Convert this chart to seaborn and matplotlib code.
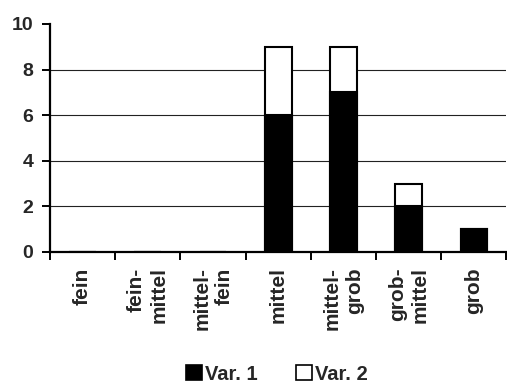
import matplotlib
matplotlib.use("Agg")
import matplotlib.pyplot as plt
from matplotlib.patches import Patch
import seaborn as sns
import pandas as pd

# Grain-size classes and counts per variant
categories = ["fein", "fein-\nmittel", "mittel-\nfein", "mittel", "mittel-\ngrob", "grob-\nmittel", "grob"]
var1 = [0, 0, 0, 6, 7, 2, 1]
var2 = [0, 0, 0, 3, 2, 1, 0]
yticks = [0, 2, 4, 6, 8, 10]

df = pd.DataFrame({"klasse": categories, "Var. 1": var1, "Var. 2": var2})
df["gesamt"] = df["Var. 1"] + df["Var. 2"]

sns.set_theme(style="white")
plt.rcParams["font.family"] = ["Liberation Sans", "DejaVu Sans"]
plt.rcParams["font.weight"] = "bold"

fig = plt.figure(figsize=(5.07, 3.83), dpi=100)
ax = fig.add_axes([50 / 507, 1 - 252 / 383, 1 - 50 / 507 - 0.001, (252 - 24) / 383])

# stacked bars: total in white, Var. 1 drawn over it in black
sns.barplot(data=df, x="klasse", y="gesamt", color="white", edgecolor="black",
            linewidth=1.5, width=0.41, saturation=1, ax=ax, zorder=3)
sns.barplot(data=df, x="klasse", y="Var. 1", color="black", edgecolor="black",
            linewidth=1.5, width=0.41, saturation=1, ax=ax, zorder=4)

ax.set_xlim(-0.5, len(categories) - 0.5)
ax.set_ylim(0, 10)
ax.set_yticks(yticks)
ax.set_xlabel("")
ax.set_ylabel("")

# horizontal grid lines (none at the top value)
ax.yaxis.grid(True, color="#222222", linewidth=0.8, zorder=0)
ax.set_axisbelow(True)
ax.get_ygridlines()[-1].set_visible(False)

for side in ("top", "right"):
    ax.spines[side].set_visible(False)
for side in ("left", "bottom"):
    ax.spines[side].set_color("black")
    ax.spines[side].set_linewidth(1.6)

ax.tick_params(axis="y", which="major", direction="out", length=6, width=1.4,
               color="black", left=True, pad=6, labelsize=14)
for t in ax.get_yticklabels():
    t.set_fontweight("bold")

# category labels centred, tick marks on the class boundaries
ax.set_xticks(range(len(categories)))
ax.set_xticklabels(categories, rotation=90, fontsize=15, fontweight="bold",
                   ha="center", va="top", multialignment="right", linespacing=1.25)
ax.set_xticks([i - 0.5 for i in range(len(categories) + 1)], minor=True)
ax.tick_params(axis="x", which="major", length=0, pad=11)
ax.tick_params(axis="x", which="minor", direction="out", length=6, width=1.4,
               color="black", bottom=True)

handles = [Patch(facecolor="black", edgecolor="black", linewidth=1.2, label="Var. 1"),
           Patch(facecolor="white", edgecolor="black", linewidth=1.2, label="Var. 2")]
fig.legend(handles=handles, loc="center", bbox_to_anchor=(277 / 507, 1 - 374 / 383),
           ncol=2, frameon=False, handlelength=0.8, handleheight=0.75,
           handletextpad=0.15, columnspacing=1.9, prop={"weight": "bold", "size": 14.5})

fig.savefig("out.png", dpi=100)
